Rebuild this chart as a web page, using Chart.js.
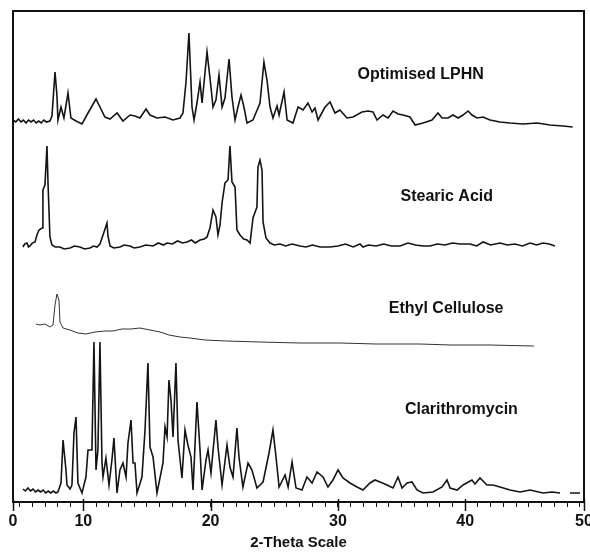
<!DOCTYPE html>
<html>
<head>
<meta charset="utf-8">
<script src="https://cdn.jsdelivr.net/npm/chart.js@4.4.1/dist/chart.umd.min.js"></script>
<style>
  html, body { margin: 0; padding: 0; background: #fff; }
  #xrd { display: block; }
</style>
</head>
<body>
<canvas id="xrd" width="590" height="552"></canvas>
<script>
// 2-theta positions and intensities (arbitrary units)
var lphnTheta = [4.48,4.7,4.9,5.1,5.3,5.5,5.7,5.9,6.1,6.3,6.5,6.7,6.9,7.1,7.38,7.54,7.78,7.93,8.01,8.25,8.48,8.80,9.03,9.43,9.90,10.37,11.00,11.31,11.70,12.10,12.65,13.12,13.67,14.06,14.45,14.93,15.24,15.79,16.42,17.05,17.60,17.83,18.07,18.30,18.54,18.70,18.93,19.17,19.33,19.72,20.03,20.19,20.42,20.66,20.90,21.13,21.45,21.68,21.92,22.15,22.39,22.62,22.86,23.33,23.88,24.19,24.43,24.67,24.90,25.22,25.38,25.77,26.01,26.47,26.87,27.26,27.65,27.97,28.20,28.44,28.99,29.38,29.77,30.16,30.71,31.19,31.89,32.37,32.76,33.07,33.54,33.94,34.33,34.72,35.11,35.66,36.06,36.69,37.39,37.86,38.18,38.65,39.04,39.44,39.83,40.22,40.53,40.93,41.40,41.95,42.73,43.52,44.54,45.64,46.66,47.68,48.44];
var lphnCounts = [7,5,8,5,7,4,7,5,7,4,6,4,7,5,6,11,55,32,7,20,9,34,9,6,3,14,28,20,10,8,14,6,12,11,9,18,12,9,10,7,9,14,45,94,20,7,24,45,24,75,40,20,27,52,20,29,68,30,7,20,32,20,4,7,24,65,47,20,9,21,12,35,7,4,20,17,24,15,19,7,20,25,14,17,9,10,15,16,15,7,12,9,16,13,12,10,2,4,7,14,9,9,12,9,12,16,12,9,10,7,5,4,3,4,2,1,0];

var stearicTheta = [5.26,5.4,5.58,5.7,5.81,6.0,6.21,6.36,6.52,6.76,6.83,6.99,7.15,7.23,7.38,7.54,7.8,8.17,8.5,8.96,9.3,9.74,10.1,10.53,10.8,11.08,11.31,11.63,11.86,11.94,12.10,12.4,12.88,13.2,13.67,14.0,14.45,14.9,15.48,15.9,16.3,16.58,17.0,17.4,17.8,18.15,18.5,18.8,19.17,19.5,19.72,19.95,20.19,20.42,20.58,20.74,20.90,21.13,21.37,21.52,21.68,21.92,22.07,22.31,22.6,22.86,23.10,23.33,23.64,23.72,23.88,24.04,24.12,24.35,24.67,25.0,25.45,25.9,26.4,27.02,27.5,28.0,28.6,29.38,30.0,30.6,31.2,31.74,31.97,32.4,33.0,33.6,34.2,34.88,35.5,36.1,36.7,37.24,37.8,38.4,39.0,39.6,40.38,40.9,41.4,42.0,42.73,43.3,43.9,44.5,45.09,45.6,46.1,46.6,47.05];
var stearicCounts = [5,8,9,5,6,9,10,17,22,24,62,67,106,69,15,7,5,5,3,4,6,5,3,4,6,5,8,20,29,16,6,4,5,7,6,4,5,7,6,9,7,9,8,11,9,10,12,9,12,13,15,24,42,35,17,27,49,69,72,106,70,65,22,17,13,12,9,34,45,85,92,82,30,14,9,7,8,6,8,6,5,7,5,5,6,8,5,8,5,7,6,8,6,6,9,7,6,6,8,7,9,8,8,6,10,7,9,7,8,6,9,7,9,8,6];

var ethylTheta = [6.28,6.60,6.99,7.38,7.62,7.78,7.93,8.09,8.17,8.41,8.96,9.58,10.21,10.92,11.70,12.33,13.04,13.75,14.45,15.24,16.03,16.73,17.60,18.38,19.56,21.21,23.88,27.02,30.16,33.00,36.45,38.88,41.95,45.40];
var ethylCounts = [28,27,28,25,27,47,58,52,30,24,22,19,18,20,21,21,23,23,24,22,20,17,15,14,12,11,10,9,9,8,8,7,7,6];

var clariTheta = [5.26,5.45,5.65,5.85,6.05,6.25,6.45,6.65,6.85,7.05,7.25,7.45,7.65,7.85,8.01,8.25,8.41,8.64,8.72,8.96,9.11,9.27,9.43,9.58,9.90,10.21,10.37,10.68,10.84,11.00,11.15,11.31,11.47,11.55,11.78,12.02,12.25,12.41,12.65,12.88,13.12,13.36,13.51,13.75,13.91,14.06,14.22,14.61,14.85,15.08,15.24,15.48,15.79,16.26,16.42,16.58,16.73,16.89,17.05,17.28,17.44,17.75,17.99,18.22,18.46,18.62,18.77,18.93,19.17,19.33,19.64,19.80,20.03,20.42,20.58,20.90,21.29,21.52,21.76,22.07,22.23,22.54,22.94,23.25,23.64,24.12,24.59,24.90,25.14,25.38,25.85,26.09,26.40,26.71,27.18,27.57,27.97,28.36,28.83,29.22,29.61,30.01,30.40,30.95,31.50,31.97,32.52,32.91,33.31,33.86,34.33,34.72,35.04,35.43,35.82,36.21,36.69,37.47,38.18,38.57,38.81,39.36,39.83,40.53,40.77,41.16,41.71,42.18,42.73,43.52,44.31,45.09,46.11,46.82,47.45,47.80,48.23,49.02];
var clariCounts = [8,6,9,6,8,5,7,5,7,4,6,4,6,4,5,14,57,27,12,8,12,64,80,14,4,20,47,47,155,27,47,155,34,20,39,12,37,59,4,27,34,20,54,77,34,34,4,20,67,134,50,40,4,34,70,60,117,97,60,134,57,19,67,52,40,7,50,95,47,7,37,47,24,77,50,12,52,30,20,69,40,10,34,27,9,15,44,67,40,10,22,10,35,9,7,20,14,25,20,10,17,27,19,14,10,7,14,17,15,12,9,20,9,14,15,7,4,5,10,17,9,7,12,17,13,19,12,12,10,7,5,7,4,5,4,null,4,4];

// vertical offset of each pattern in the stack
var stackOffsets = { lphn: 375, stearic: 250, ethyl: 150, clari: 5 };

var patternLabels = [
  { text: 'Optimised LPHN', x: 36.5, y: 427 },
  { text: 'Stearic Acid', x: 38.55, y: 305 },
  { text: 'Ethyl Cellulose', x: 38.5, y: 193 },
  { text: 'Clarithromycin', x: 39.7, y: 92 }
];

var xMin = 4.48, xMax = 49.33;
var majorTicks = [10, 20, 30, 40];

function toPoints(theta, counts, offset) {
  return theta.map(function (t, i) {
    return { x: t, y: counts[i] === null ? null : counts[i] + offset };
  });
}

const framePlugin = {
  id: 'frame',
  afterDraw: function (chart) {
    const ctx = chart.ctx;
    const area = chart.chartArea;
    const xs = chart.scales.x;

    ctx.save();
    ctx.strokeStyle = '#111';
    ctx.lineWidth = 2;
    ctx.beginPath();
    ctx.moveTo(area.left, area.bottom);
    ctx.lineTo(area.left, area.top);
    ctx.lineTo(area.right, area.top);
    ctx.lineTo(area.right, area.bottom);
    ctx.stroke();

    // longer marks at the labelled ticks
    ctx.lineWidth = 1.5;
    [xMin].concat(majorTicks, [xMax]).forEach(function (v) {
      const px = Math.round(xs.getPixelForValue(v)) + 0.5;
      ctx.beginPath();
      ctx.moveTo(px, area.bottom - 3);
      ctx.lineTo(px, area.bottom + 9);
      ctx.stroke();
    });

    ctx.font = 'bold 16px "Liberation Sans", Arial, sans-serif';
    ctx.fillStyle = '#111';
    ctx.textAlign = 'center';
    ctx.textBaseline = 'middle';
    patternLabels.forEach(function (l) {
      ctx.fillText(l.text, xs.getPixelForValue(l.x), chart.scales.y.getPixelForValue(l.y));
    });
    ctx.restore();
  }
};

var lineStyle = { borderColor: '#141414', borderWidth: 1.6, pointRadius: 0, tension: 0, fill: false, spanGaps: false };

new Chart(document.getElementById('xrd').getContext('2d'), {
  type: 'line',
  data: {
    datasets: [
      Object.assign({ label: 'Optimised LPHN', data: toPoints(lphnTheta, lphnCounts, stackOffsets.lphn) }, lineStyle),
      Object.assign({ label: 'Stearic Acid', data: toPoints(stearicTheta, stearicCounts, stackOffsets.stearic) }, lineStyle),
      Object.assign({ label: 'Ethyl Cellulose', data: toPoints(ethylTheta, ethylCounts, stackOffsets.ethyl) }, lineStyle, { borderWidth: 1, borderColor: '#333' }),
      Object.assign({ label: 'Clarithromycin', data: toPoints(clariTheta, clariCounts, stackOffsets.clari) }, lineStyle)
    ]
  },
  options: {
    responsive: false,
    animation: false,
    layout: { padding: { left: 13, right: 6, top: 11, bottom: 0 } },
    plugins: { legend: { display: false }, tooltip: { enabled: false } },
    scales: {
      x: {
        type: 'linear',
        min: xMin,
        max: xMax,
        afterBuildTicks: function (scale) {
          var t = [{ value: xMin }];
          for (var v = 5; v <= 49; v++) t.push({ value: v });
          t.push({ value: xMax });
          scale.ticks = t;
        },
        afterFit: function (scale) {
          scale.height = 50;
          scale.paddingLeft = 0;
          scale.paddingRight = 0;
        },
        ticks: {
          autoSkip: false,
          maxRotation: 0,
          padding: 5,
          color: '#111',
          font: { family: '"Liberation Sans", Arial, sans-serif', size: 16, weight: 'bold' },
          callback: function (value) {
            if (value === xMin) return '0';
            if (value === xMax) return '50';
            return majorTicks.indexOf(value) >= 0 ? String(value) : '';
          }
        },
        grid: { drawOnChartArea: false, drawTicks: true, tickLength: 5, tickColor: '#111', tickWidth: 1 },
        border: { display: true, color: '#111', width: 2 },
        title: {
          display: true,
          text: '2-Theta Scale',
          color: '#111',
          padding: { top: 0, bottom: 0 },
          font: { family: '"Liberation Sans", Arial, sans-serif', size: 15, weight: 'bold' }
        }
      },
      y: {
        type: 'linear',
        display: false,
        min: 0,
        max: 491
      }
    }
  },
  plugins: [framePlugin]
});
</script>
</body>
</html>
